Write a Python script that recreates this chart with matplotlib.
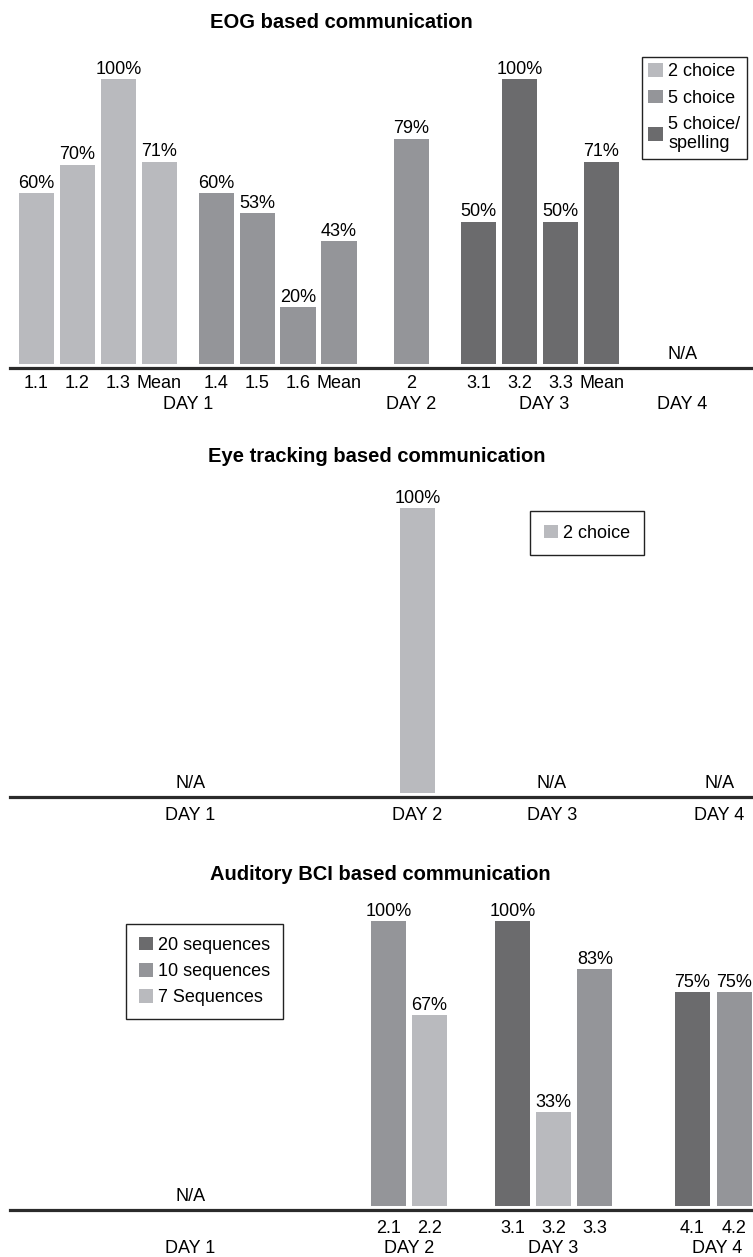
import matplotlib
matplotlib.use("Agg")
import matplotlib.pyplot as plt
from matplotlib.patches import Patch
import numpy as np

plt.rcParams['font.family'] = ['Liberation Sans', 'DejaVu Sans']

# ---------------- data ----------------
eog_title = "EOG based communication"
eog_ticks = ['1.1', '1.2', '1.3', 'Mean', '1.4', '1.5', '1.6', 'Mean', '2',
             '3.1', '3.2', '3.3', 'Mean']
eog_values = [60, 70, 100, 71, 60, 53, 20, 43, 79, 50, 100, 50, 71]
eog_series = ['2 choice'] * 4 + ['5 choice'] * 5 + ['5 choice/\nspelling'] * 4
eog_bar_days = ['DAY 1'] * 8 + ['DAY 2'] + ['DAY 3'] * 4
eog_na_days = ['DAY 4']
eog_legend = ['2 choice', '5 choice', '5 choice/\nspelling']

eye_title = "Eye tracking based communication"
eye_ticks = ['']
eye_values = [100]
eye_series = ['2 choice']
eye_bar_days = ['DAY 2']
eye_na_days = ['DAY 1', 'DAY 3', 'DAY 4']
eye_legend = ['2 choice']

aud_title = "Auditory BCI based communication"
aud_ticks = ['2.1', '2.2', '3.1', '3.2', '3.3', '4.1', '4.2']
aud_values = [100, 67, 100, 33, 83, 75, 75]
aud_series = ['10 sequences', '7 Sequences', '20 sequences', '7 Sequences',
              '10 sequences', '20 sequences', '10 sequences']
aud_bar_days = ['DAY 2', 'DAY 2', 'DAY 3', 'DAY 3', 'DAY 3', 'DAY 4', 'DAY 4']
aud_na_days = ['DAY 1']
aud_legend = ['20 sequences', '10 sequences', '7 Sequences']

days = ['DAY 1', 'DAY 2', 'DAY 3', 'DAY 4']

# ---------------- styles / layout ----------------
LIGHT, MID, DARK = '#b9babe', '#949599', '#6b6b6d'
colors = {'2 choice': LIGHT, '5 choice': MID, '5 choice/\nspelling': DARK,
          '20 sequences': DARK, '10 sequences': MID, '7 Sequences': LIGHT}

FW, FH = 753, 1257
SLOT = 41.2          # px per slot
X0 = 36.5            # px of slot 0
PX_PER_PCT = 2.85
FS = 13

def slots(groups):
    out = []
    for start, n, step in groups:
        out.extend(start + step * np.arange(n))
    return np.array(out)

fig = plt.figure(figsize=(FW / 100, FH / 100), dpi=100)

def panel(baseline_px, title, title_cx, title_cy, ticks, values, series,
          bar_days, na_days, bar_pos, na_pos, tick_off, day_off, day_pos_override=None):
    top_room = 300
    ax = fig.add_axes([10 / FW, 1 - (baseline_px + 4) / FH, (FW - 10) / FW,
                       (top_room + 4) / FH])
    ax.set_xlim((10 - X0) / SLOT, (FW - X0) / SLOT)
    ax.set_ylim(-4 / PX_PER_PCT, top_room / PX_PER_PCT)
    for s in ['top', 'left', 'right']:
        ax.spines[s].set_visible(False)
    ax.spines['bottom'].set_linewidth(2.3)
    ax.spines['bottom'].set_color('#2b2b2b')
    ax.set_xticks([])
    ax.set_yticks([])
    ax.patch.set_alpha(0)

    ax.bar(bar_pos, values, width=0.86, color=[colors[s] for s in series],
           bottom=0, zorder=2)
    for x, v in zip(bar_pos, values):
        ax.annotate(f'{v}%', xy=(x, v), xytext=(0, 1.0), textcoords='offset points',
                    ha='center', va='bottom', fontsize=FS, clip_on=False)
    for x, t in zip(bar_pos, ticks):
        if t:
            ax.annotate(t, xy=(x, 0), xycoords=('data', 'axes fraction'),
                        xytext=(0, -tick_off), textcoords='offset points',
                        ha='center', va='center', fontsize=FS)
    day_x = {}
    for d in days:
        xs = [x for x, bd in zip(bar_pos, bar_days) if bd == d]
        if xs:
            day_x[d] = (min(xs) + max(xs)) / 2
    for d, x in zip(na_days, na_pos):
        day_x[d] = x
        ax.annotate('N/A', xy=(x, 0), xytext=(0, 1.0), textcoords='offset points',
                    ha='center', va='bottom', fontsize=FS)
    if day_pos_override:
        day_x.update(day_pos_override)
    for d in days:
        ax.annotate(d, xy=(day_x[d], 0), xycoords=('data', 'axes fraction'),
                    xytext=(0, -day_off), textcoords='offset points',
                    ha='center', va='center', fontsize=FS)
    fig.text(title_cx / FW, 1 - title_cy / FH, title, ha='center', va='center',
             fontsize=14.5, fontweight='bold')
    return ax

def legend(labels, x_px, y_px, pad):
    handles = [Patch(facecolor=colors[l], edgecolor='none', label=l) for l in labels]
    leg = fig.legend(handles=handles, loc='upper left',
                     bbox_to_anchor=(x_px / FW, 1 - y_px / FH),
                     bbox_transform=fig.transFigure, frameon=True, fancybox=False,
                     edgecolor='#222222', framealpha=1, fontsize=FS,
                     handlelength=0.8, handleheight=0.8, handletextpad=0.3,
                     labelspacing=0.5, borderpad=pad, borderaxespad=0)
    leg.get_frame().set_linewidth(1.0)
    return leg

# Panel 1: EOG
eog_pos = slots([(0, 4, 0.995), (4.37, 4, 0.99), (9.1, 1, 1), (10.73, 4, 0.995)])
panel(364, eog_title, 341, 22, eog_ticks, eog_values, eog_series,
      eog_bar_days, eog_na_days, eog_pos, [15.67], 11.0, 26.0,
      day_pos_override={'DAY 3': 12.33})
legend(eog_legend, 642, 57, 0.35)

# Panel 2: eye tracking
eye_pos = slots([(9.25, 1, 1)])
panel(793, eye_title, 377, 457, eye_ticks, eye_values, eye_series,
      eye_bar_days, eye_na_days, eye_pos, [3.73, 12.51, 16.57], 13.0, 13.0)
legend(eye_legend, 530, 511, 0.75)

# Panel 3: auditory BCI
aud_pos = slots([(8.54, 2, 1.0), (11.55, 3, 1.0), (15.92, 2, 1.02)])
panel(1206, aud_title, 380, 875, aud_ticks, aud_values, aud_series,
      aud_bar_days, aud_na_days, aud_pos, [3.73], 13.0, 28.0,
      day_pos_override={'DAY 4': 16.52})
legend(aud_legend, 126, 924, 0.7)

fig.savefig('out.png', dpi=100)
